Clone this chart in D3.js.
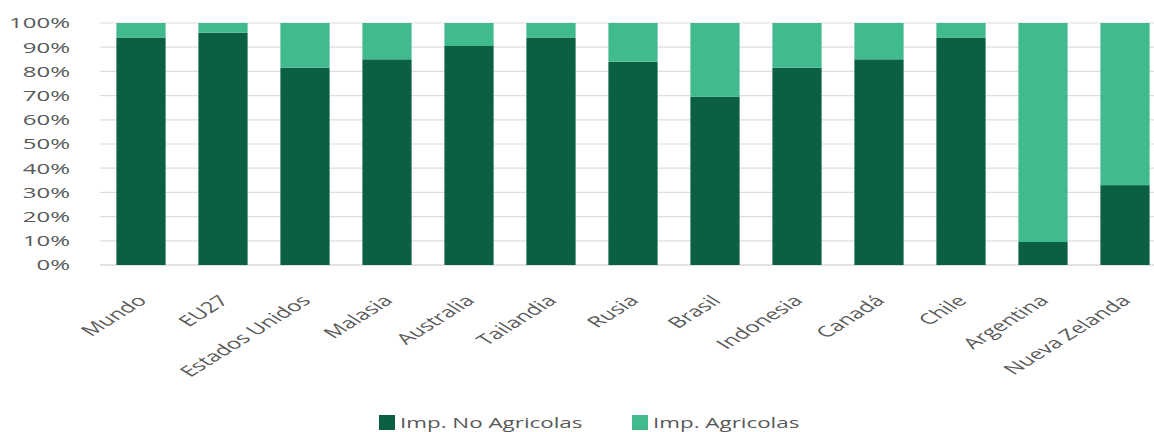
<!DOCTYPE html>
<html>
<head>
<meta charset="utf-8">
<script src="https://cdn.jsdelivr.net/npm/d3@7"></script>
<style>
    body { margin: 0; background: #fff; }
    text { font-family: "Open Sans", sans-serif; fill: #595959; }
</style>
</head>
<body>
<div id="chart"></div>
<script>
// Data (share of total imports, %)
const countries = ["Mundo", "EU27", "Estados Unidos", "Malasia", "Australia", "Tailandia", "Rusia",
    "Brasil", "Indonesia", "Canadá", "Chile", "Argentina", "Nueva Zelanda"];
const noAgricolas = [94, 96, 81.5, 85, 90.5, 94, 84, 69.5, 81.5, 85, 94, 9.5, 33];
const agricolas = noAgricolas.map(v => 100 - v);
const seriesNames = ["Imp. No Agricolas", "Imp. Agricolas"];
const seriesColors = ["#0b5f43", "#3fbb8d"];
const yTicks = [0, 10, 20, 30, 40, 50, 60, 70, 80, 90, 100];

const width = 1154, height = 432;
const margin = { top: 23, left: 100, bottom: 167 };
const plotH = height - margin.top - margin.bottom;
// the picture is stretched sideways, so the text is too
const stretch = 1.6;

const rows = countries.map((c, i) => ({ country: c, no: noAgricolas[i], ag: agricolas[i] }));
const stack = d3.stack().keys(["no", "ag"])(rows);

const svg = d3.select("#chart").append("svg")
    .attr("width", width)
    .attr("height", height);

const x = d3.scaleBand()
    .domain(countries)
    .range([margin.left, margin.left + 82 * countries.length])
    .paddingInner(0.4)
    .paddingOuter(0.2);

const y = d3.scaleLinear()
    .domain([0, 100])
    .range([margin.top + plotH, margin.top]);

// gridlines
svg.append("g")
    .selectAll("line")
    .data(yTicks)
    .join("line")
    .attr("x1", margin.left)
    .attr("x2", width)
    .attr("y1", d => y(d))
    .attr("y2", d => y(d))
    .attr("stroke", d => d === 0 ? "#c8c8c8" : "#e2dcdc")
    .attr("stroke-width", 1.2);

// bars
svg.append("g")
    .selectAll("g")
    .data(stack)
    .join("g")
    .attr("fill", (d, i) => seriesColors[i])
    .selectAll("rect")
    .data(d => d)
    .join("rect")
    .attr("x", d => x(d.data.country))
    .attr("width", x.bandwidth())
    .attr("y", d => y(d[1]))
    .attr("height", d => y(d[0]) - y(d[1]));

// y axis
const yAxis = d3.axisLeft(y).tickValues(yTicks).tickFormat(d => d + "%").tickSize(0).tickPadding(0);
svg.append("g")
    .attr("transform", `translate(${margin.left},0)`)
    .call(yAxis)
    .call(g => g.select(".domain").remove())
    .selectAll("text")
    .style("font-size", "15px")
    .attr("fill", "#595959")
    .attr("x", 0)
    .attr("transform", `translate(-30,0) scale(${stretch},1)`);

// x axis
const xAxis = d3.axisBottom(x).tickSize(0).tickPadding(0);
svg.append("g")
    .attr("transform", `translate(0,${margin.top + plotH})`)
    .call(xAxis)
    .call(g => g.select(".domain").remove())
    .selectAll("text")
    .style("font-size", "15px")
    .attr("fill", "#595959")
    .attr("text-anchor", "end")
    .attr("y", 0)
    .attr("dy", "0.35em")
    .attr("transform", `translate(1,33) scale(${stretch},1) rotate(-45)`);

// legend
const legend = svg.append("g")
    .selectAll("g")
    .data(seriesNames)
    .join("g")
    .attr("transform", (d, i) => `translate(${i === 0 ? 379 : 632},415)`);

legend.append("rect")
    .attr("width", 16)
    .attr("height", 15)
    .attr("fill", (d, i) => seriesColors[i]);

legend.append("text")
    .attr("transform", `translate(21,13) scale(${stretch},1)`)
    .style("font-size", "14px")
    .text(d => d);
</script>
</body>
</html>
